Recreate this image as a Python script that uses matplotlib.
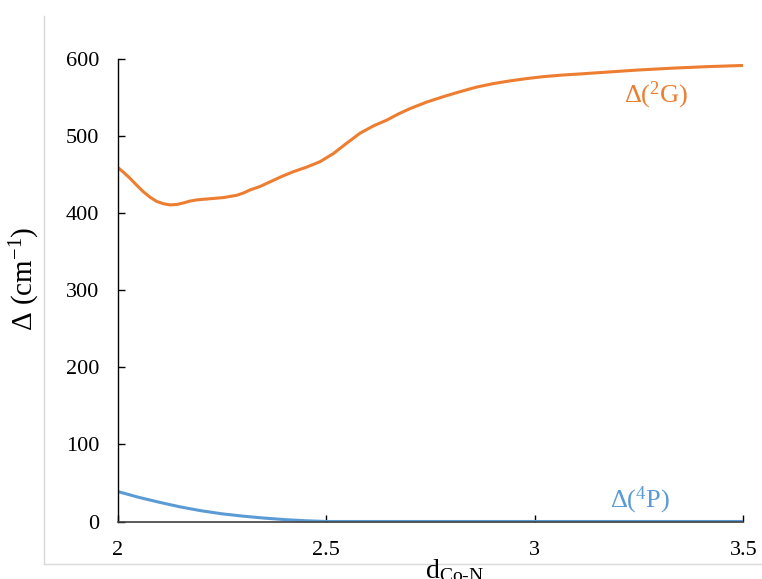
import matplotlib
matplotlib.use('Agg')
import matplotlib.pyplot as plt
from matplotlib.lines import Line2D

plt.rcParams['font.family'] = ['Liberation Serif', 'DejaVu Serif']
plt.rcParams['mathtext.fontset'] = 'custom'
plt.rcParams['mathtext.rm'] = 'Liberation Serif'
plt.rcParams['mathtext.it'] = 'Liberation Serif:italic'

# Delta(2G) curve
d_2g = [2.000, 2.015, 2.030, 2.046, 2.062, 2.078, 2.094, 2.110, 2.126,
        2.142, 2.158, 2.174, 2.190, 2.222, 2.254, 2.286, 2.302, 2.318,
        2.342, 2.366, 2.394, 2.421, 2.453, 2.485, 2.517, 2.549, 2.581,
        2.613, 2.645, 2.673, 2.701, 2.741, 2.781, 2.821, 2.861, 2.901,
        2.941, 2.981, 3.021, 3.065, 3.109, 3.177, 3.245, 3.33, 3.415, 3.500]
delta_2g = [460, 453, 445.5, 436.5, 428, 421, 415.5, 412.5, 411,
            411.5, 413.5, 416, 417.5, 419, 420.5, 423.5, 426.5, 430.5,
            435, 441, 448, 454, 460, 467, 477.5, 491, 504,
            513.5, 521, 529, 536, 544.5, 551.5, 558, 564, 568.5,
            572, 575, 577.5, 579.5, 581, 583.5, 586, 588.5, 590.5, 592]

# Delta(4P) curve
d_4p = [2.00, 2.05, 2.10, 2.15, 2.20, 2.25, 2.30, 2.35, 2.40, 2.45, 2.50,
        3.00, 3.50]
delta_4p = [39, 31.5, 25, 19, 14, 10, 7, 4.5, 2.5, 1, 0, 0, 0]

x_ticks = [2, 2.5, 3, 3.5]
x_ticklabels = ['2', '2.5', '3', '3.5']
y_ticks = [0, 100, 200, 300, 400, 500, 600]

orange = '#ED7D31'
blue = '#5B9BD5'

fig = plt.figure(figsize=(7.62, 5.79), dpi=100)
ax = fig.add_axes([0.1542, 0.0993, 0.8215, 0.7983])

ax.plot(d_2g, delta_2g, color=orange, linewidth=2.2,
        solid_capstyle='butt', solid_joinstyle='round')
ax.plot(d_4p, delta_4p, color=blue, linewidth=2.2,
        solid_capstyle='butt', solid_joinstyle='round')

ax.set_xlim(2, 3.5)
ax.set_ylim(0, 600)
ax.set_xticks(x_ticks)
ax.set_xticklabels(x_ticklabels)
ax.set_yticks(y_ticks)

for side in ['top', 'right']:
    ax.spines[side].set_visible(False)
ax.spines['left'].set_color('black')
ax.spines['left'].set_linewidth(1.0)
ax.spines['bottom'].set_color('#404040')
ax.spines['bottom'].set_linewidth(1.2)

ax.tick_params(axis='y', direction='in', length=5, width=1, pad=13,
               labelsize=16, colors='black')
ax.tick_params(axis='x', direction='in', length=5, width=1, pad=14,
               labelsize=16, colors='black')

# series labels
ax.text(3.29, 553, r'Δ($^{2}$G)', color=orange, fontsize=19,
        ha='center', va='center')
ax.text(3.252, 27, r'Δ($^{4}$P)', color=blue, fontsize=19,
        ha='center', va='center')

# axis titles
fig.text(0.033, 0.518, r'Δ (cm$^{\mathrm{-1}}$)', rotation=90, fontsize=21,
         ha='center', va='center')
fig.text(0.596, 0.037, r'd$_{\mathrm{Co\text{-}N}}$', fontsize=20,
         ha='center', va='top')

# light chart-area frame
frame = '#d9d9d9'
fig.add_artist(Line2D([44 / 762, 44 / 762], [1 - 16 / 579, 1 - 564 / 579],
                      transform=fig.transFigure, color=frame, linewidth=1))
fig.add_artist(Line2D([44 / 762, 1.0], [1 - 564 / 579, 1 - 564 / 579],
                      transform=fig.transFigure, color=frame, linewidth=1))

fig.savefig('out.png', dpi=100)
